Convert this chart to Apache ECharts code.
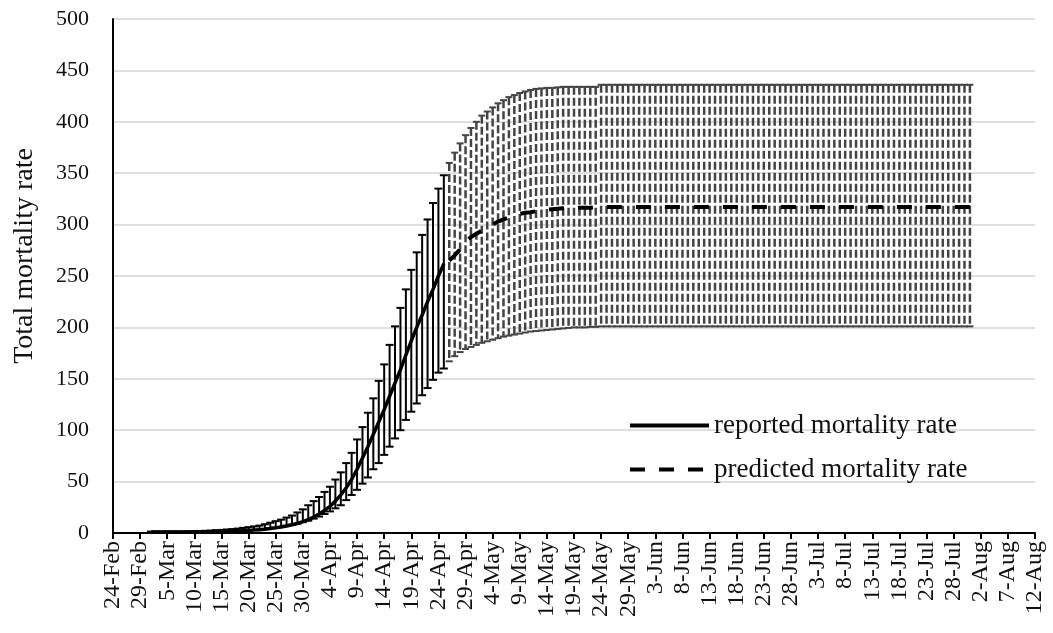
<!DOCTYPE html>
<html>
<head>
<meta charset="utf-8">
<script src="https://cdn.jsdelivr.net/npm/echarts@6/dist/echarts.min.js"></script>
<style>
html,body{margin:0;padding:0;background:#fff;}
#chart{width:1053px;height:633px;}
</style>
</head>
<body>
<div id="chart"></div>
<script>
// x-axis tick labels (every 5 days from 24-Feb, day index 0..170)
var tickLabels = ["24-Feb","29-Feb","5-Mar","10-Mar","15-Mar","20-Mar","25-Mar","30-Mar","4-Apr","9-Apr","14-Apr","19-Apr","24-Apr","29-Apr","4-May","9-May","14-May","19-May","24-May","29-May","3-Jun","8-Jun","13-Jun","18-Jun","23-Jun","28-Jun","3-Jul","8-Jul","13-Jul","18-Jul","23-Jul","28-Jul","2-Aug","7-Aug","12-Aug"];

// reported: first day index (1-Mar = day 7)
var reportedStartDay = 7;
var reportedValue = [1,1,1,1,1,1,1,1,1,1.1,1.2,1.3,1.4,1.5,1.6,1.8,2,2.2,2.5,2.8,3.2,3.7,4.3,5,5.8,6.8,8,9.3,11,13,15.5,18.5,22,26,31,37,44,52,62,73,84,96,108,120,133,146,159,173,187,200,212,225,237,250,262];
var reportedLow = [0.7,0.7,0.7,0.7,0.7,0.7,0.7,0.8,0.9,0.9,1,1.1,1.2,1.4,1.6,1.8,2,2.3,2.6,3,3.3,4,4.6,5.3,6,7,8,9,10.5,12,14,16,18.5,21,24,27,32,37,42,48,54,62,68,76,84,92,100,110,118,126,134,141,149,156,160];
var reportedHigh = [1.4,1.4,1.4,1.4,1.4,1.4,1.4,1.7,1.8,2,2.1,2.4,2.7,3,3.4,3.8,4.3,5,5.7,6.4,7.2,8.5,10,11.5,13,15,17,20,23,27,31,35,40,45,52,59,68,78,91,103,117,131,148,164,183,201,219,237,256,273,290,305,321,335,348];

// predicted: first day index (27-Apr = day 62)
var predictedStartDay = 62;
var predictedValue = [265,270,276,283,288,291,294,297,300,303,305,307,309,310.5,311.5,312,313,314,314.5,315,315.5,316,316,316,316.5,316.5,316.5,317,
317,317,317,317,317,317,317,317,317,317,317,317,317,317,317,317,317,317,317,317,317,317,317,317,317,317,317,317,317,317,317,317,317,317,317,317,317,317,317,317,317,317,317,317,317,317,317,317,317,317,317,317,317,317,317,317,317,317,317,317,317,317,317,317,317,317,317,317,317];
var predictedLow = [167,172,176,179,181,183,185,186.5,188,189.5,191,192,193,194,195,196,196.5,197,197.5,198,198.5,199,199.5,200,200,200,200.5,200.5,
201,201,201,201,201,201,201,201,201,201,201,201,201,201,201,201,201,201,201,201,201,201,201,201,201,201,201,201,201,201,201,201,201,201,201,201,201,201,201,201,201,201,201,201,201,201,201,201,201,201,201,201,201,201,201,201,201,201,201,201,201,201,201,201,201,201,201,201,201];
var predictedHigh = [360,370,379,387,394,400,406,410,414,418,421,424,426,428,429.5,431,432,432.5,433,433,433.5,434,434,434,434,434,434,434,
436,436,436,436,436,436,436,436,436,436,436,436,436,436,436,436,436,436,436,436,436,436,436,436,436,436,436,436,436,436,436,436,436,436,436,436,436,436,436,436,436,436,436,436,436,436,436,436,436,436,436,436,436,436,436,436,436,436,436,436,436,436,436,436,436,436,436,436,436];

function pairs(start, arr){ return arr.map(function(v,i){ return [start+i, v]; }); }
function triples(start, lo, hi){ return lo.map(function(v,i){ return [start+i, v, hi[i]]; }); }

function errRender(color, dash, capW, lw){
  return function(params, api){
    var x = api.value(0), lo = api.value(1), hi = api.value(2);
    var pt = api.coord([x, hi]), pb = api.coord([x, lo]);
    return {type:'group', children:[
      {type:'line', shape:{x1:pt[0],y1:pt[1],x2:pb[0],y2:pb[1]}, style:{stroke:color,lineWidth:lw,lineDash:dash}},
      {type:'line', shape:{x1:pt[0]-capW/2,y1:pt[1],x2:pt[0]+capW/2,y2:pt[1]}, style:{stroke:color,lineWidth:2}},
      {type:'line', shape:{x1:pb[0]-capW/2,y1:pb[1],x2:pb[0]+capW/2,y2:pb[1]}, style:{stroke:color,lineWidth:2}}
    ]};
  };
}

var FONT = '"Liberation Serif","Times New Roman",serif';
var chart = echarts.init(document.getElementById('chart'), null, {renderer:'canvas'});
chart.setOption({
  animation:false,
  backgroundColor:'#fff',
  grid:{left:113, right:18, top:19, bottom:100, containLabel:false},
  legend:{
    orient:'vertical', left:623, top:407, itemWidth:79, itemHeight:14, itemGap:17,
    itemStyle:{opacity:0},
    lineStyle:{width:4},
    textStyle:{fontFamily:FONT, fontSize:27, color:'#111'},
    data:['reported mortality rate','predicted mortality rate']
  },
  graphic:[{
    type:'text', x:25, y:256, rotation:Math.PI/2,
    style:{text:'Total mortality rate', fontFamily:FONT, fontSize:28, fill:'#111', textAlign:'center', textVerticalAlign:'middle'}
  }],
  xAxis:{
    type:'value', min:0, max:170, interval:5,
    axisLine:{show:true, lineStyle:{color:'#000', width:2}},
    axisTick:{show:true, length:6, lineStyle:{color:'#000', width:2}},
    splitLine:{show:false},
    axisLabel:{rotate:90, margin:8, fontFamily:FONT, fontSize:24, color:'#111',
      formatter:function(v){ return tickLabels[Math.round(v/5)]; }}
  },
  yAxis:{
    type:'value', min:0, max:500, interval:50,
    axisLine:{show:true, lineStyle:{color:'#000', width:2}},
    axisTick:{show:false},
    splitLine:{show:true, lineStyle:{color:'#d4d4d4', width:1.5}},
    axisLabel:{margin:24, fontFamily:FONT, fontSize:22, color:'#111'}
  },
  series:[
    {type:'custom', name:'predErr', silent:true, z:1,
     renderItem:errRender('#444',[8,3],7,2.5),
     encode:{x:0, y:[1,2]},
     data:triples(predictedStartDay, predictedLow, predictedHigh)},
    {type:'custom', name:'repErr', silent:true, z:2,
     renderItem:errRender('#000',null,8,2),
     encode:{x:0, y:[1,2]},
     data:triples(reportedStartDay, reportedLow, reportedHigh)},
    {type:'line', name:'reported mortality rate', z:5, symbol:'none', smooth:false,
     lineStyle:{color:'#000', width:3.5}, itemStyle:{color:'#000'},
     data:pairs(reportedStartDay, reportedValue)},
    {type:'line', name:'predicted mortality rate', z:5, symbol:'none', smooth:false,
     lineStyle:{color:'#000', width:4, type:[15,14]}, itemStyle:{color:'#000'},
     data:pairs(predictedStartDay, predictedValue)}
  ]
});
</script>
</body>
</html>
